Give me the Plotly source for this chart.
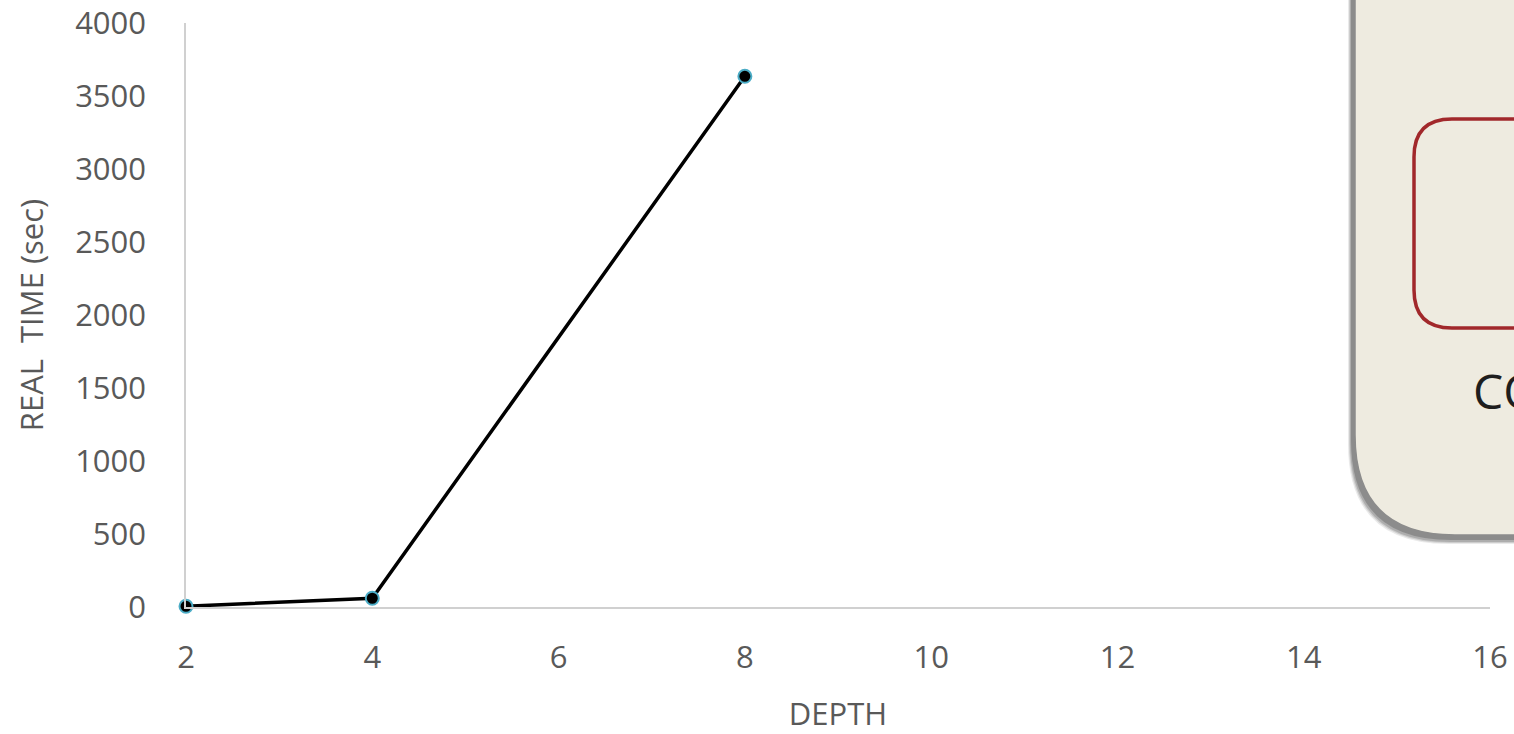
import plotly.graph_objects as go

depth = [2, 4, 8]
real_time = [5, 60, 3635]
x_ticks = [2, 4, 6, 8, 10, 12, 14, 16]
y_ticks = [0, 500, 1000, 1500, 2000, 2500, 3000, 3500, 4000]

L, R, T, B = 186, 1490, 23, 607
W, H = R - L, B - T


def px(p):
    return (p - L) / W


def py(p):
    return (B - p) / H


def box_path(left, top, right, bottom, r):
    return (f"M {px(left)},{py(top)} L {px(left)},{py(bottom - r)} "
            f"Q {px(left)},{py(bottom)} {px(left + r)},{py(bottom)} "
            f"L {px(right)},{py(bottom)} L {px(right)},{py(top)} Z")


def rrect_path(left, top, right, bottom, r):
    return (f"M {px(left + r)},{py(top)} L {px(right)},{py(top)} "
            f"L {px(right)},{py(bottom)} L {px(left + r)},{py(bottom)} "
            f"Q {px(left)},{py(bottom)} {px(left)},{py(bottom - r)} "
            f"L {px(left)},{py(top + r)} Q {px(left)},{py(top)} {px(left + r)},{py(top)}")


fig = go.Figure()
fig.add_trace(go.Scatter(
    x=depth, y=real_time, mode="lines+markers",
    line=dict(color="black", width=3.5),
    marker=dict(color="black", size=13, line=dict(color="#4BACC6", width=2)),
    showlegend=False, cliponaxis=False,
))

shapes = []
for dx, dy, op in [(-7, 9, 0.12), (-6, 8, 0.18), (-5, 7, 0.25), (-4, 5, 0.35)]:
    shapes.append(dict(type="path", xref="paper", yref="paper", layer="above",
                       path=box_path(1355 + dx, -60, 1600, 535 + dy, 100),
                       fillcolor=f"rgba(80,80,80,{op})", line=dict(width=0)))
shapes.append(dict(type="path", xref="paper", yref="paper", layer="above",
                   path=box_path(1355, -60, 1600, 535, 100),
                   fillcolor="#EEEBE0", line=dict(color="#8C8C8C", width=1.5)))
shapes.append(dict(type="path", xref="paper", yref="paper", layer="above",
                   path=rrect_path(1414, 119, 1600, 328, 38),
                   fillcolor="rgba(0,0,0,0)", line=dict(color="#A1282B", width=3.5)))

fig.update_layout(
    width=1514, height=734,
    margin=dict(l=L, r=1514 - R, t=T, b=734 - B),
    paper_bgcolor="white", plot_bgcolor="white",
    font=dict(family="Open Sans", color="#595959", size=31),
    shapes=shapes,
    annotations=[dict(text="CO", x=px(1471), y=py(390), xref="paper", yref="paper",
                      xanchor="left", yanchor="middle", showarrow=False,
                      font=dict(family="Open Sans", size=48, color="#1E1E1E"))],
    xaxis=dict(range=[2, 16], tickvals=x_ticks, showgrid=False, zeroline=False,
               showline=True, linecolor="#D0D0D0", linewidth=1.5, automargin=False,
               ticks="outside", ticklen=22, tickcolor="rgba(0,0,0,0)",
               title=dict(text="DEPTH", standoff=30, font=dict(size=31))),
    yaxis=dict(range=[0, 4000], tickvals=y_ticks, showgrid=False, zeroline=False,
               showline=True, linecolor="#D0D0D0", linewidth=1.5, automargin=False,
               ticks="outside", ticklen=32, tickcolor="rgba(0,0,0,0)",
               title=dict(text="REAL  TIME (sec)", standoff=22, font=dict(size=31))),
)

fig.write_html("out.html")
